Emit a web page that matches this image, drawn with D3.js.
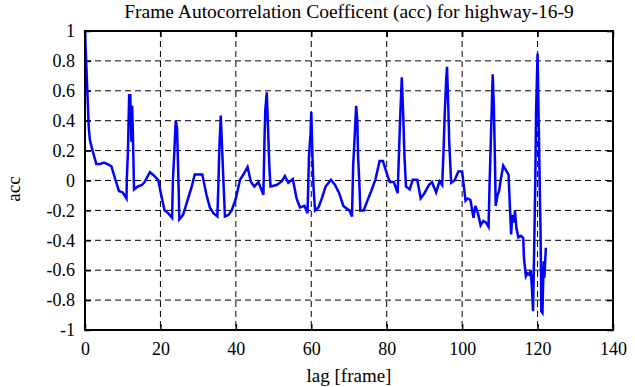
<!DOCTYPE html>
<html>
<head>
<meta charset="utf-8">
<script src="https://cdn.jsdelivr.net/npm/d3@7/dist/d3.min.js"></script>
<style>
  body { margin: 0; background: #fff; }
  svg text { font-family: "Liberation Serif", "DejaVu Serif", serif; fill: #000; }
</style>
</head>
<body>
<div id="chart"></div>
<script>
// values
var lags = [
	0, 1, 1.3, 2, 3, 4, 5, 6, 7, 8, 9, 10, 11,
	11.1, 11.4, 11.7, 12, 12.3, 12.5, 12.7, 13, 14, 15.1, 15.8, 17.2, 18.2, 19.4, 20.4, 21.1, 22.1, 23.1,
	23.3, 23.7, 24.05, 24.4, 24.6, 24.85, 25, 26, 27.1, 28.2, 29.1, 31.1, 32.2, 33.1, 34.1, 35.1,
	35.4, 35.6, 36, 36.3, 36.7, 37.1, 38, 38.9, 40, 41.1, 42, 43.1, 44, 44.9, 46, 46.9, 47.3,
	47.6, 47.8, 48.2, 48.5, 48.9, 49.2, 50.8, 52.2, 53, 53.9, 55.1, 56.1, 57, 58.2, 59,
	59.4, 59.8, 60, 60.3, 60.6, 61, 61.9, 62.8, 63.8, 65.2, 66.3, 67.4, 68.5, 70.1, 70.8,
	71.1, 71.4, 71.9, 72.2, 72.4, 72.8, 73, 73.9, 74.8, 75.9, 77, 78.1, 79, 80, 80.8, 81.9, 82.9,
	83.3, 83.6, 84, 84.4, 84.7, 85.1, 86.1, 86.9, 88.1, 89, 90, 91.2, 92, 93.1, 94, 94.7,
	95.1, 95.4, 95.8, 96, 96.3, 96.6, 97.1, 98, 99, 100, 100.9, 101.5, 102.2, 103, 103.5, 104.2,
	104.9, 105.6, 106.3, 107, 107.3, 107.6, 107.9, 108.1, 108.4, 108.7, 108.9, 109.4, 109.8,
	110.2, 110.9, 111.6, 112.3, 112.6, 113, 113.3, 113.8, 114, 114.4, 114.9, 115.6, 116.2,
	116.4, 116.9, 117.3, 117.8, 118.2, 118.5, 118.8, 119.1, 119.4, 119.6, 120, 120.2, 120.5,
	120.8, 121, 121.3, 121.6, 121.8, 122.2
];
var acc = [
	1.0, 0.35, 0.27, 0.2, 0.11, 0.11, 0.12, 0.11, 0.095, 0.01, -0.07, -0.08, -0.12,
	0.02, 0.2, 0.57, 0.57, 0.26, 0.5, 0.31, -0.06, -0.04, -0.03, -0.01, 0.055, 0.035, 0.005, -0.12, -0.2, -0.22, -0.25,
	0, 0.2, 0.4, 0.35, 0.17, -0.07, -0.26, -0.23, -0.14, -0.05, 0.04, 0.04, -0.095, -0.18, -0.22, -0.24,
	0, 0.2, 0.435, 0.25, 0, -0.24, -0.23, -0.2, -0.12, 0.005, 0.04, 0.09, -0.01, -0.04, -0.01, -0.07, -0.095,
	0.28, 0.47, 0.59, 0.37, 0.08, -0.04, -0.03, -0.005, 0.03, -0.015, 0.01, -0.12, -0.18, -0.17, -0.22,
	0.17, 0.31, 0.46, 0.17, -0.05, -0.2, -0.18, -0.12, -0.04, 0.005, -0.03, -0.085, -0.17, -0.2, -0.24,
	0.1, 0.24, 0.5, 0.4, 0.17, -0.05, -0.2, -0.2, -0.14, -0.07, 0.005, 0.13, 0.13, 0.05, -0.01, -0.01, -0.085,
	0.22, 0.44, 0.69, 0.42, 0.17, -0.04, -0.06, 0.005, 0.005, -0.12, -0.085, -0.03, -0.01, -0.08, -0.005, -0.03,
	0.22, 0.46, 0.69, 0.76, 0.51, 0.24, -0.015, 0, 0.06, 0.06, -0.135, -0.12, -0.13, -0.25, -0.17, -0.22,
	-0.3, -0.27, -0.28, -0.31, 0, 0.26, 0.53, 0.71, 0.51, 0.13, -0.17, -0.095, -0.07,
	0, 0.1, 0.07, 0.04, -0.14, -0.36, -0.23, -0.28, -0.2, -0.32, -0.38, -0.37, -0.385,
	-0.52, -0.64, -0.62, -0.63, -0.6, -0.72, -0.875, -0.46, 0, 0.46, 0.85, 0.55, 0.08,
	-0.36, -0.875, -0.885, -0.54, -0.65, -0.45
];
var xTicks = [0, 20, 40, 60, 80, 100, 120, 140];
var yTicks = [-1, -0.8, -0.6, -0.4, -0.2, 0, 0.2, 0.4, 0.6, 0.8, 1];

var width = 635, height = 387;
var margin = {left: 85, right: 22, top: 31, bottom: 57};
var serif = '"Liberation Serif", "DejaVu Serif", serif';

var svg = d3.select('#chart').append('svg')
	.attr('width', width)
	.attr('height', height);

var x = d3.scaleLinear().domain([0, 140]).range([margin.left, width - margin.right]);
var y = d3.scaleLinear().domain([-1, 1]).range([height - margin.bottom, margin.top]);

// dashed grid
svg.append('g').selectAll('line')
	.data(xTicks.slice(1, -1))
	.enter().append('line')
	.attr('x1', function(d) { return x(d); }).attr('x2', function(d) { return x(d); })
	.attr('y1', y(1)).attr('y2', y(-1))
	.style('stroke', '#000').style('stroke-width', 1)
	.style('stroke-dasharray', '6,4');

svg.append('g').selectAll('line')
	.data(yTicks.slice(1, -1))
	.enter().append('line')
	.attr('x1', x(0)).attr('x2', x(140))
	.attr('y1', function(d) { return y(d); }).attr('y2', function(d) { return y(d); })
	.style('stroke', '#000').style('stroke-width', 1)
	.style('stroke-dasharray', '6,4');

// axes, ticks pointing inwards
var fmt = function(d) { return String(d); };
svg.append('g')
	.attr('transform', 'translate(0,' + y(-1) + ')')
	.call(d3.axisBottom(x).tickValues(xTicks).tickSize(-6).tickPadding(12).tickFormat(fmt));
svg.append('g')
	.attr('transform', 'translate(0,' + y(1) + ')')
	.call(d3.axisTop(x).tickValues(xTicks).tickSize(-6).tickFormat(''));
svg.append('g')
	.attr('transform', 'translate(' + x(0) + ',0)')
	.call(d3.axisLeft(y).tickValues(yTicks).tickSize(-6).tickPadding(10).tickFormat(fmt));
svg.append('g')
	.attr('transform', 'translate(' + x(140) + ',0)')
	.call(d3.axisRight(y).tickValues(yTicks).tickSize(-6).tickFormat(''));

svg.selectAll('.domain').remove();
svg.selectAll('g').attr('font-family', serif).attr('font-size', 18);
svg.selectAll('.tick line').style('stroke', '#000').style('stroke-width', 1.5);
svg.selectAll('.tick text')
	.attr('font-family', serif)
	.style('font-size', '18px');

// series
var line = d3.line()
	.x(function(d, i) { return x(lags[i]); })
	.y(function(d) { return y(d); });

svg.append('path')
	.datum(acc)
	.attr('d', line)
	.style('fill', 'none')
	.style('stroke', '#0000ff')
	.style('stroke-width', 2.5)
	.style('stroke-linejoin', 'miter');

// frame
svg.append('rect')
	.attr('x', x(0)).attr('y', y(1))
	.attr('width', x(140) - x(0)).attr('height', y(-1) - y(1))
	.style('fill', 'none')
	.style('stroke', '#000')
	.style('stroke-width', 2);

// labels
svg.append('text')
	.attr('x', (x(0) + x(140)) / 2).attr('y', 18)
	.attr('text-anchor', 'middle')
	.style('font-size', '19.5px')
	.text('Frame Autocorrelation Coefficent (acc) for highway-16-9');

svg.append('text')
	.attr('x', (x(0) + x(140)) / 2).attr('y', 382)
	.attr('text-anchor', 'middle')
	.style('font-size', '19px')
	.text('lag [frame]');

svg.append('text')
	.attr('transform', 'translate(20,189) rotate(-90)')
	.attr('text-anchor', 'middle')
	.style('font-size', '19px')
	.text('acc');
</script>
</body>
</html>
